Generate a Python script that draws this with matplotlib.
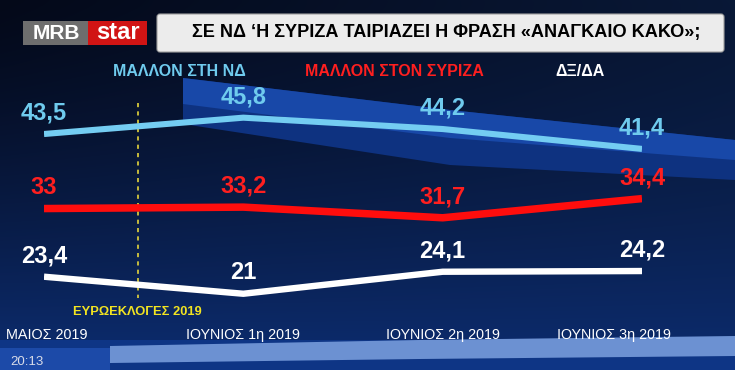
import matplotlib
matplotlib.use('Agg')
import matplotlib.pyplot as plt
import numpy as np
from matplotlib.patches import Polygon, FancyBboxPatch, Rectangle

# ---------------- data ----------------
categories = ['ΜΑΙΟΣ 2019', 'ΙΟΥΝΙΟΣ 1η 2019', 'ΙΟΥΝΙΟΣ 2η 2019', 'ΙΟΥΝΙΟΣ 3η 2019']
nd = [43.5, 45.8, 44.2, 41.4]
syriza = [33, 33.2, 31.7, 34.4]
dkda = [23.4, 21, 24.1, 24.2]
series_names = ['ΜΑΛΛΟΝ ΣΤΗ ΝΔ', 'ΜΑΛΛΟΝ ΣΤΟΝ ΣΥΡΙΖΑ', 'ΔΞ/ΔΑ']
title = 'ΣΕ ΝΔ ‘Η ΣΥΡΙΖΑ ΤΑΙΡΙΑΖΕΙ Η ΦΡΑΣΗ «ΑΝΑΓΚΑΙΟ ΚΑΚΟ»;'
event_label = 'ΕΥΡΩΕΚΛΟΓΕΣ 2019'
event_x = 0.47
timestamp = '20:13'

W, H = 735, 370
fig = plt.figure(figsize=(W / 100, H / 100), dpi=100)

SANS = ['Liberation Sans', 'DejaVu Sans']


def fit_width(txt, target):
    fig.canvas.draw()
    w = txt.get_window_extent().width
    txt.set_fontsize(txt.get_fontsize() * target / w)


# ---------------- background ----------------
bg = fig.add_axes([0, 0, 1, 1])
bg.set_xlim(0, W)
bg.set_ylim(H, 0)
bg.axis('off')

yy, xx = np.mgrid[0:H, 0:W]
t = np.clip(yy / 340.0, 0, 1)
s = xx / W
dark = np.array([4, 9, 25]) / 255
bottom = np.array([12, 42, 105]) / 255
right = np.array([10, 28, 62]) / 255
img = (dark[None, None, :] * (1 - t[..., None] ** 1.3)
       + bottom[None, None, :] * (t[..., None] ** 1.3))
img = img + (right - dark)[None, None, :] * (s[..., None] * (1 - t[..., None]) * 0.8)
img = np.clip(img, 0, 1)
bg.imshow(img, extent=[0, W, H, 0], aspect='auto', zorder=0)

# blue swoosh wedge
bg.add_patch(Polygon([(183, 78), (450, 110), (735, 140), (735, 180), (450, 165), (183, 124)],
                     closed=True, facecolor='#0e3280', edgecolor='none', zorder=1))
bg.add_patch(Polygon([(183, 78), (450, 110), (735, 140), (735, 160), (450, 138), (183, 104)],
                     closed=True, facecolor='#1848a8', edgecolor='none', zorder=1))

# bottom bands
bg.add_patch(Rectangle((0, 340), W, 30, facecolor='#0e3585', edgecolor='none', zorder=1))
bg.add_patch(Polygon([(110, 346), (420, 340), (735, 336), (735, 356), (420, 359), (110, 363)],
                     closed=True, facecolor='#6c91d2', edgecolor='none', zorder=1))
bg.add_patch(Rectangle((0, 348), 110, 22, facecolor='#1c4aa8', edgecolor='none', zorder=1))
bg.text(27, 362, timestamp, color='#d8dce8', fontsize=9.5, ha='center', va='center',
        family=SANS, zorder=3)

# logo
bg.add_patch(Rectangle((23, 21), 65, 24, facecolor='#6e6e6e', edgecolor='none', zorder=2))
bg.add_patch(Rectangle((88, 21), 59, 24, facecolor='#d11414', edgecolor='none', zorder=2))
bg.text(56, 33.5, 'MRB', color='white', fontsize=15, fontweight='bold', ha='center',
        va='center', family=SANS, zorder=3)
bg.text(117.5, 32.5, 'star', color='white', fontsize=17, fontweight='bold', ha='center',
        va='center', family=SANS, zorder=3)

# title box
bg.add_patch(FancyBboxPatch((157, 14), 567, 38, boxstyle='round,pad=0,rounding_size=3',
                            facecolor='#ececec', edgecolor='#a0a0a0', linewidth=0.8, zorder=2))
tt = bg.text(446, 33, title, color='black', fontsize=16, fontweight='bold', ha='center',
             va='center', family=SANS, zorder=3)
fit_width(tt, 510)

# series header labels
series_colors = ['#6fcbee', '#ff1f1f', '#ffffff']
header_x = [179, 394, 580]
for name, col, hx in zip(series_names, series_colors, header_x):
    bg.text(hx, 71, name, color=col, fontsize=11.5, fontweight='bold', ha='center',
            va='center', family=SANS, zorder=3)

# ---------------- data axes ----------------
# x index 0..3 -> px 44..642 ; value v -> px 134 + (43.5 - v) * 7.1
y_lo, y_hi = 15, 50
px_top = 134 + (43.5 - y_hi) * 7.1
px_bot = 134 + (43.5 - y_lo) * 7.1
ax = fig.add_axes([44 / W, 1 - px_bot / H, 598 / W, (px_bot - px_top) / H])
ax.set_xlim(0, 3)
ax.set_ylim(y_lo, y_hi)
ax.axis('off')
ax.patch.set_alpha(0)

x = np.arange(len(categories))
line_colors = ['#74cdf2', '#ff0d0d', '#ffffff']
label_colors = ['#6fcbee', '#ff1f1f', '#ffffff']
widths = [4.4, 5.4, 4.6]
for vals, lc, tc, lw in zip([nd, syriza, dkda], line_colors, label_colors, widths):
    ax.plot(x, vals, color=lc, lw=lw, solid_capstyle='butt', solid_joinstyle='round', zorder=3)
    for xi, v in zip(x, vals):
        txt = f'{v:g}'.replace('.', ',')
        ax.annotate(txt, xy=(xi, v), xytext=(0, 21), textcoords='offset pixels',
                    ha='center', va='center', color=tc, fontsize=17, fontweight='bold',
                    family=SANS, zorder=4)

# event marker
ax.plot([event_x, event_x], [47.9, 20.4], color='#e6d63c', lw=1.2, ls=(0, (2.5, 2.5)), zorder=2)
ev = ax.annotate(event_label, xy=(event_x, 0), xycoords=('data', 'axes fraction'),
                 xytext=(0, 24), textcoords='offset pixels', ha='center', va='center',
                 color='#f2e421', fontsize=10, fontweight='bold', family=SANS, zorder=4)
fit_width(ev, 128)

# category labels
label_dx = [3, 0, 0, -28]
label_w = [82, 114, 114, 114]
for xi, cat, dx, tw in zip(x, categories, label_dx, label_w):
    a = ax.annotate(cat, xy=(xi, 0), xycoords=('data', 'axes fraction'),
                    xytext=(dx, 1), textcoords='offset pixels', ha='center', va='center',
                    color='white', fontsize=13, family=SANS, zorder=4)
    fit_width(a, tw)

fig.savefig('out.png', dpi=100)
